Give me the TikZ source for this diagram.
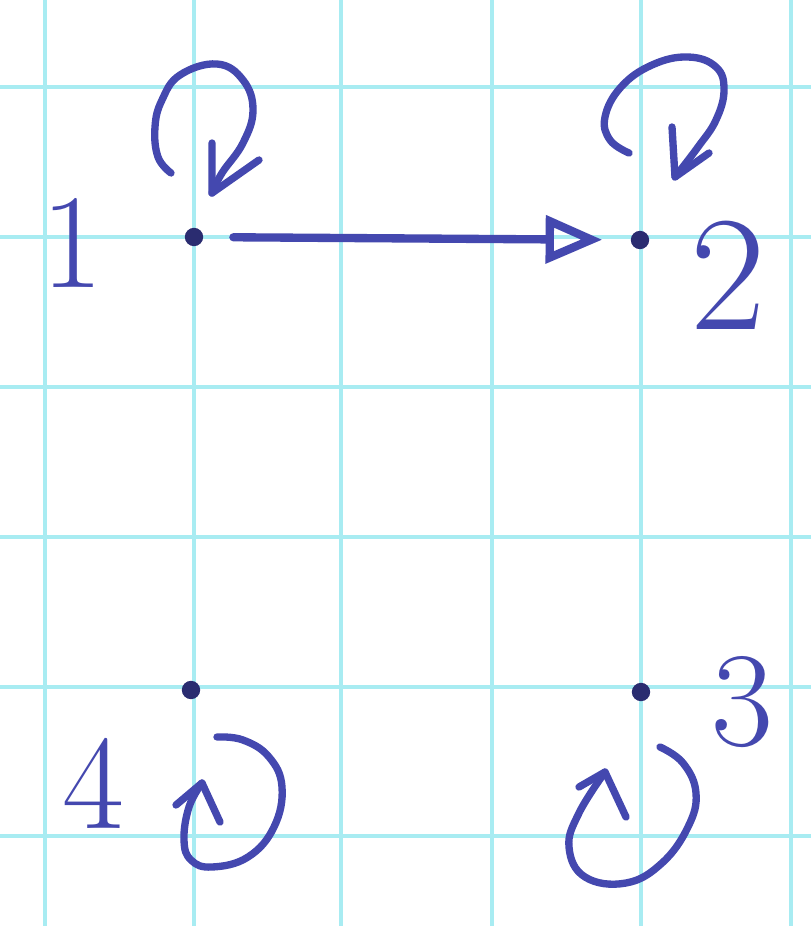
\documentclass[tikz,border=0pt]{standalone}
\usepackage{fontspec}
\usetikzlibrary{arrows.meta}
\definecolor{ink}{RGB}{68,72,175}
\definecolor{dotink}{RGB}{42,44,112}
\definecolor{gridc}{RGB}{168,236,242}
\begin{document}
\begin{tikzpicture}[x=0.03cm,y=-0.03cm,
  gridline/.style={gridc, line width=0.1cm},
  pen/.style={ink, line width=0.22cm, line cap=round, line join=round},
  vertex/.style={circle, fill=dotink, inner sep=0pt, minimum size=0.55cm},
  lab/.style={ink, inner sep=0pt, font=\fontsize{115}{115}\selectfont}]
\fill[white] (0,0) rectangle (811,926);
\useasboundingbox (0,0) rectangle (811,926);
\foreach \gx in {45,194,341,492,641,791} \draw[gridline] (\gx,0) -- (\gx,926);
\foreach \gy in {87,237,387,537,687,836} \draw[gridline] (0,\gy) -- (811,\gy);

\node[vertex] (n1) at (194,237) {};
\node[vertex] (n2) at (640,240) {};
\node[vertex] (n3) at (641,692) {};
\node[vertex] (n4) at (191,690) {};

\node[lab] (l1) at (72,243) {1};
\node[lab, font=\fontsize{140}{140}\selectfont] (l2) at (728,275) {2};
\node[lab] (l3) at (742,702) {3};
\node[lab] (l4) at (93,783) {4};

\draw[pen, line width=0.25cm, -{Triangle[open, length=1.7cm, width=1.4cm]}, shorten <=0.9cm, shorten >=0.85cm] (n1) -- (n2);

\begin{scope}[shift={(n1)}]
\draw[pen] plot[smooth, tension=0.7] coordinates {(-23,-64) (-36,-80) (-39,-110) (-32,-137) (-14,-162) (23,-173) (49,-157) (59,-127) (49,-94) (28,-64) (18,-44)};
\draw[pen] (18,-94) -- (18,-44) -- (65,-77);
\end{scope}

\begin{scope}[shift={(n2)}]
\draw[pen] plot[smooth, tension=0.7] coordinates {(-11,-87) (-30,-100) (-35,-123) (-19,-153) (12,-175) (48,-183) (76,-173) (84,-150) (76,-120) (58,-93) (35,-63)};
\draw[pen] (32,-113) -- (35,-63) -- (69,-87);
\end{scope}

\begin{scope}[shift={(n3)}]
\draw[pen] plot[smooth, tension=0.7] coordinates {(19,55) (42,71) (55,101) (47,135) (21,171) (-15,191) (-56,185) (-72,155) (-62,121) (-36,80)};
\draw[pen] (-62,95) -- (-36,80) -- (-15,125);
\end{scope}

\begin{scope}[shift={(n4)}]
\draw[pen] plot[smooth, tension=0.7] coordinates {(26,47) (52,50) (78,67) (91,97) (83,137) (57,167) (21,177) (0,170) (-7,150) (-2,117) (11,93)};
\draw[pen] (-15,115) -- (11,93) -- (29,132);
\end{scope}
\end{tikzpicture}
\end{document}
